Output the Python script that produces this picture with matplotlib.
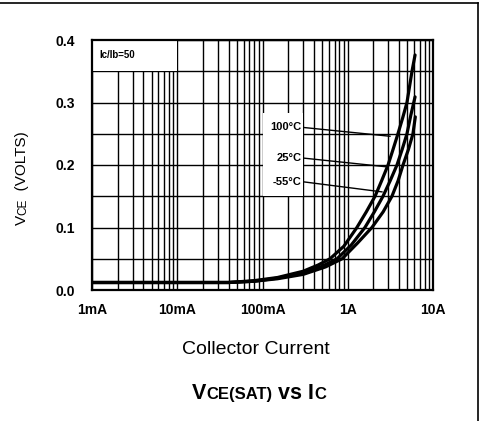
import matplotlib
matplotlib.use("Agg")
import matplotlib.pyplot as plt
from matplotlib.patches import Rectangle
from matplotlib.lines import Line2D
import numpy as np

plt.rcParams['font.family'] = ['Liberation Sans', 'DejaVu Sans']

# ---- data ----
ic_100 = [0.001, 0.04, 0.08, 0.15, 0.3, 0.45, 0.62, 0.9, 1.28, 1.65, 2.09, 2.5, 2.97, 3.4, 3.88, 4.4, 4.95, 5.67, 6.16]
vce_100 = [0.012, 0.012, 0.015, 0.020, 0.030, 0.040, 0.050, 0.070, 0.100, 0.125, 0.150, 0.175, 0.200, 0.225, 0.250, 0.275, 0.300, 0.350, 0.376]
ic_25 = [0.001, 0.04, 0.08, 0.15, 0.3, 0.5, 0.75, 1.1, 1.59, 2.05, 2.59, 3.15, 3.78, 4.35, 4.95, 5.5, 6.16]
vce_25 = [0.012, 0.012, 0.014, 0.019, 0.027, 0.038, 0.050, 0.072, 0.100, 0.125, 0.150, 0.175, 0.200, 0.225, 0.250, 0.280, 0.309]
ic_m55 = [0.001, 0.04, 0.08, 0.15, 0.3, 0.55, 0.86, 1.3, 1.92, 2.6, 3.3, 3.9, 4.45, 5.15, 5.82, 6.2]
vce_m55 = [0.012, 0.012, 0.014, 0.018, 0.025, 0.037, 0.050, 0.075, 0.100, 0.125, 0.150, 0.175, 0.200, 0.225, 0.250, 0.277]

x_ticks = [0.001, 0.01, 0.1, 1, 10]
x_ticklabels = ['1mA', '10mA', '100mA', '1A', '10A']
y_ticks = [0.0, 0.1, 0.2, 0.3, 0.4]
y_ticklabels = ['0.0', '0.1', '0.2', '0.3', '0.4']
temp_labels = ['100°C', '25°C', '-55°C']

W, H = 480, 421
fig = plt.figure(figsize=(W / 100, H / 100), dpi=100)
ax = fig.add_axes([92 / W, 1 - 290 / H, (433 - 92) / W, (290 - 40) / H])

ax.set_xscale('log')
ax.set_xlim(0.001, 10)
ax.set_ylim(0, 0.4)

# grid
minor_x = [m * 10.0 ** d for d in range(-3, 1) for m in range(2, 10)]
ax.set_xticks(x_ticks)
ax.set_xticks(minor_x, minor=True)
ax.set_xticklabels(x_ticklabels, fontweight='bold', fontsize=10)
ax.set_yticks(y_ticks)
ax.set_yticks(np.arange(0.05, 0.4, 0.1), minor=True)
ax.set_yticklabels(y_ticklabels, fontweight='bold', fontsize=10)
ax.tick_params(which='both', length=0)
ax.tick_params(axis='x', pad=9)
ax.tick_params(axis='y', pad=12)
ax.set_axisbelow(True)
ax.grid(True, which='both', color='black', linewidth=1.0)
for s in ax.spines.values():
    s.set_linewidth(1.6)

# white boxes covering grid
ax.add_patch(Rectangle((0.001, 0.35), 0.01 - 0.001, 0.05, facecolor='white', edgecolor='none', zorder=1))
ax.add_patch(Rectangle((0.1, 0.15), 0.3 - 0.1, 0.283 - 0.15, facecolor='white', edgecolor='none', zorder=1))

# curves
for xs, ys in [(ic_100, vce_100), (ic_25, vce_25), (ic_m55, vce_m55)]:
    ax.plot(xs, ys, color='black', linewidth=2.3, zorder=3, solid_capstyle='round')

ax.text(0.00122, 0.376, 'Ic/Ib=50', fontsize=7, fontweight='bold', va='center', ha='left', zorder=4)

# temperature labels with leader lines
label_y = [0.26, 0.211, 0.173]
leader_end = [(3.13, 0.246), (2.89, 0.197), (2.52, 0.157)]
for t, ly, (ex, ey) in zip(temp_labels, label_y, leader_end):
    ax.text(0.285, ly, t, fontsize=8, fontweight='bold', ha='right', va='center', zorder=4)
    ax.plot([0.305, ex], [ly, ey], color='black', linewidth=1.0, zorder=2)

# x label
fig.text(256 / W, 1 - 350 / H, 'Collector Current', fontsize=14, ha='center', va='center')

fig.canvas.draw()
renderer = fig.canvas.get_renderer()

def chain(parts, x0, y0, rotation=0):
    """Draw text pieces sequentially (pixel coords from top-left)."""
    x, y = x0, y0
    arts = []
    for s, size, weight in parts:
        t = fig.text(x / W, 1 - y / H, s, fontsize=size, fontweight=weight,
                     ha='left', va='baseline', rotation=rotation, rotation_mode='anchor')
        bb = t.get_window_extent(renderer)
        if rotation == 0:
            x += bb.width
        else:
            y -= bb.height
        arts.append(t)
    return arts

# title
title_parts = [('V', 15.5, 'bold'), ('CE(SAT)', 12, 'bold'), (' vs I', 15.5, 'bold'), ('C', 12, 'bold')]
tmp = chain(title_parts, 0, -100)
total = sum(a.get_window_extent(renderer).width for a in tmp)
for a in tmp:
    a.remove()
chain(title_parts, 259 - total / 2, 399)

# y label
ylab_parts = [('V', 11, 'normal'), ('CE', 8.5, 'normal'), ('  (VOLTS)', 11, 'normal')]
tmp = chain(ylab_parts, -100, 0, rotation=90)
total = sum(a.get_window_extent(renderer).height for a in tmp)
for a in tmp:
    a.remove()
chain(ylab_parts, 26, 178 + total / 2, rotation=90)

# outer frame lines (top and right)
fig.add_artist(Line2D([0, 478 / W], [1 - 3 / H, 1 - 3 / H], transform=fig.transFigure, color='black', linewidth=1.2))
fig.add_artist(Line2D([478 / W, 478 / W], [1 - 3 / H, 0], transform=fig.transFigure, color='black', linewidth=1.2))

fig.savefig('out.png', dpi=100)
